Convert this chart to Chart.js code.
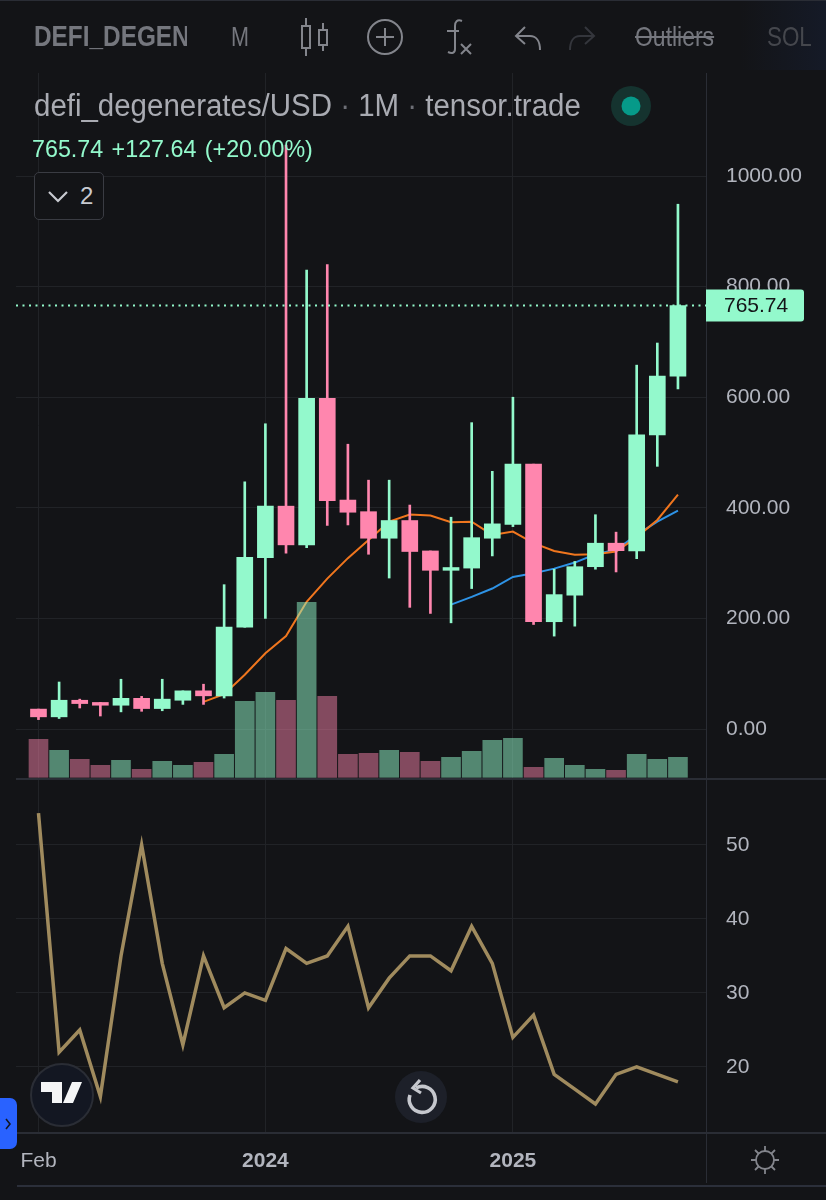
<!DOCTYPE html>
<html>
<head>
<meta charset="utf-8">
<script src="https://cdn.jsdelivr.net/npm/chart.js@4/dist/chart.umd.min.js"></script>
<style>
  html, body { margin: 0; padding: 0; background: #131417; }
  #page { position: relative; width: 826px; height: 1200px; overflow: hidden; background: #131417; font-family: "Liberation Sans", sans-serif; }
  canvas { position: absolute; left: 0; display: block; }
  .txt { position: absolute; white-space: pre; transform-origin: left center; line-height: 1; }
  .rule { position: absolute; background: #2a2d35; }
  svg { position: absolute; overflow: visible; }
  .dim { color: #6d6f76; }
</style>
</head>
<body>
<div id="page">
  <canvas id="priceCanvas" width="826" height="779" style="top:0"></canvas>
  <canvas id="rsiCanvas" width="826" height="421" style="top:779px"></canvas>

  <div style="position:absolute;left:740px;top:0;width:86px;height:70px;background:linear-gradient(90deg,#131417,#151a27)"></div>
  <div class="rule" style="left:0;top:0;width:826px;height:1px"></div>
  <div class="rule" style="left:16px;top:778px;width:810px;height:2px"></div>
  <div class="rule" style="left:16px;top:1132px;width:810px;height:2px"></div>
  <div class="rule" style="left:17px;top:1185px;width:809px;height:2px;background:#2b2f3a"></div>
  <div class="rule" style="left:706px;top:1133px;width:1px;height:50px"></div>

  <!-- toolbar -->
  <div class="txt" style="left:34px;top:22px;font-size:29px;font-weight:bold;color:#75777e;transform:scaleX(.84);width:182px;overflow:hidden">DEFI_DEGEN</div>
  <div class="txt" style="left:231px;top:24px;font-size:27px;color:#75777e;transform:scaleX(.80)">M</div>
  <svg style="left:298px;top:18px" width="34" height="38" fill="none" stroke="#83858c" stroke-width="2">
    <rect x="4" y="8" width="8" height="22"/><path d="M8 0v8M8 30v8"/>
    <rect x="21" y="12" width="8" height="15"/><path d="M25 5v7M25 27v6"/>
  </svg>
  <svg style="left:367px;top:19px" width="36" height="36" fill="none" stroke="#83858c" stroke-width="2">
    <circle cx="18" cy="18" r="17"/><path d="M18 9v18M9 18h18"/>
  </svg>
  <svg style="left:446px;top:19px" width="28" height="36" fill="none" stroke="#83858c" stroke-width="2">
    <path d="M16 2c-5-2-7 1-7 5v23c0 4-3 5-7 3"/><path d="M1 12h12"/><path d="M15 25l10 10M25 25L15 35"/>
  </svg>
  <svg style="left:515px;top:26px" width="28" height="24" fill="none" stroke="#83858c" stroke-width="2">
    <path d="M10 1L1 10l9 8"/><path d="M1 10h14c6 0 10 5 10 14"/>
  </svg>
  <svg style="left:568px;top:26px" width="28" height="24" fill="none" stroke="#34363c" stroke-width="2">
    <path d="M17 1l9 9-9 8"/><path d="M26 10H12C6 10 2 15 2 24"/>
  </svg>
  <div class="txt" style="left:635px;top:23px;font-size:28px;color:#75777e;text-decoration:line-through;transform:scaleX(.82)">Outliers</div>
  <div class="txt" style="left:767px;top:23px;font-size:28px;color:#45474d;transform:scaleX(.80)">SOL</div>

  <!-- series legend -->
  <div class="txt" style="left:34px;top:90px;font-size:31px;color:#a9abb2;transform:scaleX(.95)">defi_degenerates/USD <span class="dim">·</span> 1M <span class="dim">·</span> tensor.trade</div>
  <svg style="left:611px;top:86px" width="40" height="40">
    <circle cx="20" cy="20" r="20" fill="#15332f"/><circle cx="20" cy="20" r="9.5" fill="#069a89"/>
  </svg>
  <div class="txt" style="left:32px;top:137px;font-size:24px;color:#93f9cc;word-spacing:2px;transform:scaleX(.97)">765.74 +127.64 (+20.00%)</div>
  <div style="position:absolute;left:34px;top:172px;width:68px;height:46px;border:1.5px solid #3a3c43;border-radius:5px;background:#131417"></div>
  <svg style="left:47px;top:190px" width="22" height="14" fill="none" stroke="#c8cad0" stroke-width="2.2"><path d="M2 2l9 9 9-9"/></svg>
  <div class="txt" style="left:80px;top:184px;font-size:24px;color:#c8cad0">2</div>

  <!-- logo, reset, side tab, settings -->
  <svg style="left:30px;top:1063px" width="64" height="64">
    <circle cx="32" cy="32" r="31" fill="#131722" stroke="#2a2d35" stroke-width="2"/>
    <path d="M11 19h21v21h-10V29H11zM52 19L43 40H33l9-21z" fill="#f4f5f6"/>
  </svg>
  <svg style="left:395px;top:1071px" width="52" height="52" fill="none">
    <circle cx="26" cy="26" r="26" fill="#1d2029"/>
    <path d="M21 17a13 13 0 1 1-6 7" stroke="#c5c7cd" stroke-width="3.6"/><path d="M25 9l-7 8 8 5" stroke="#c5c7cd" stroke-width="3.2"/>
  </svg>
  <svg style="left:0;top:1098px" width="17" height="51">
    <rect x="-6" y="0" width="23" height="51" rx="7" fill="#2962ff"/>
    <path d="M6 21l4 5-4 5" fill="none" stroke="#131722" stroke-width="1.6"/>
  </svg>
  <svg style="left:750px;top:1145px" width="30" height="30" fill="none" stroke="#83858c" stroke-width="1.8">
    <circle cx="15" cy="15" r="9"/><path d="M15 1v5M15 24v5M1 15h5M24 15h5M5 5l3.5 3.5M21.5 21.5L25 25M5 25l3.5-3.5M21.5 8.5L25 5"/>
  </svg>
</div>

<script>
// monthly candles, Feb 2023 -> Sep 2025
const opens  = [36, 22, 52, 48, 43, 55.5, 37, 52, 69, 60, 184, 310, 403, 333, 598, 414, 393, 345, 377, 322, 287, 291, 345, 370, 479, 194, 242, 293.5, 336, 322, 532, 638];
const closes = [22, 52, 46, 43, 55.5, 37, 54, 69, 60, 184.5, 310.5, 403, 333, 598, 413, 392, 345, 377, 321, 287, 292, 346, 371, 479, 194, 243, 293.5, 336, 322.5, 532, 638, 765.74];
const highs  = [36, 85, 54, 48, 90, 59, 90, 69, 81, 261, 447, 552, 1056, 830, 840, 515, 450, 450, 405, 322, 383, 554, 466, 600, 479, 289, 303, 387.5, 356, 658, 698, 949];
const lows   = [17, 19, 38, 23.5, 31, 32, 33, 44.5, 44.5, 56, 184, 200, 318, 328, 368, 369, 316, 273, 220, 209, 192, 254, 313, 366, 189, 168, 186, 289, 284, 308, 475, 615];
const volumes = [38, 27, 18, 12, 17, 8, 16, 12, 15, 23, 76, 85, 77, 175, 81, 23, 24, 27, 25, 16, 20, 26, 37, 39, 10, 19, 12, 8, 7, 23, 18, 20];
const maOrange = [null, null, null, null, null, null, null, null, 49, 63, 98, 137, 168, 230, 272, 309, 342, 375, 388, 386, 374, 375, 351, 357, 336, 322, 315, 316, 321, 347, 378, 424];
const maBlue   = [null, null, null, null, null, null, null, null, null, null, null, null, null, null, null, null, null, null, null, null, 225, 239, 254, 275, 281.5, 290, 301, 316, 324, 351, 375, 395];
const rsiValues = [54.3, 22, 25, 16, 35, 50, 34, 23, 35, 28, 30, 29, 36, 34, 35, 39, 28, 32, 35, 35, 33, 39, 34, 24, 27, 19, 17, 15, 19, 20, 19, 18];

const priceTicks = [1000, 800, 600, 400, 200, 0];
const rsiTicks = [50, 40, 30, 20];
const timeTicks = [0, 11, 23];
const timeLabels = ['Feb', '2024', '2025'];
const lastPrice = 765.74;

const UP = '#93f9cc', DOWN = '#ff86ae';
const UP_VOL = 'rgba(147,249,204,0.5)', DOWN_VOL = 'rgba(255,134,174,0.48)';
const GRID = '#212327', TICK = '#b2b5be';
const FONT = '"Liberation Sans", sans-serif';
const TICK_SIZE = 21;

const barColor = i => closes[i] >= opens[i] ? UP : DOWN;
const volColor = i => closes[i] >= opens[i] ? UP_VOL : DOWN_VOL;
const xy = vals => vals.map((v, i) => ({ x: i, y: v }));

const xRange = { min: -1.09, max: 32.36 };

// pin the plot area: fixed axis size, no extra room for labels overhanging the edges
const fitAxis = size => scale => {
    if (scale.isHorizontal()) scale.height = size; else scale.width = size;
    scale.paddingTop = scale.paddingBottom = scale.paddingLeft = scale.paddingRight = 0;
};

const priceTagPlugin = {
    id: 'priceTag',
    afterDraw (chart) {
        const { ctx, chartArea } = chart;
        const y = chart.scales.y.getPixelForValue(lastPrice);
        ctx.save();
        ctx.fillStyle = UP;
        ctx.beginPath();
        ctx.roundRect(chartArea.right, y - 16, 98, 32, [0, 3, 3, 0]);
        ctx.fill();
        ctx.fillStyle = '#131417';
        ctx.font = TICK_SIZE + 'px ' + FONT;
        ctx.textBaseline = 'middle';
        ctx.fillText(lastPrice.toFixed(2), chartArea.right + 18, y + 1);
        ctx.restore();
    }
};

new Chart(document.getElementById('priceCanvas'), {
    type: 'bar',
    data: {
        datasets: [
            { type: 'line', data: [{ x: xRange.min, y: lastPrice }, { x: xRange.max, y: lastPrice }], yAxisID: 'y', order: 0,
              borderColor: UP, borderWidth: 2, borderDash: [2, 4.5], pointRadius: 0 },
            { data: opens.map((o, i) => ({ x: i, y: [o, closes[i]] })), yAxisID: 'y', order: 1, grouped: false,
              backgroundColor: opens.map((o, i) => barColor(i)), barThickness: 16 },
            { data: lows.map((l, i) => ({ x: i, y: [l, highs[i]] })), yAxisID: 'y', order: 2, grouped: false,
              backgroundColor: lows.map((l, i) => barColor(i)), barThickness: 2 },
            { data: xy(volumes), yAxisID: 'yVol', order: 3, grouped: false,
              backgroundColor: volumes.map((v, i) => volColor(i)), barThickness: 19 },
            { type: 'line', data: xy(maOrange), yAxisID: 'y', order: 4, borderColor: '#f0761e', borderWidth: 2, pointRadius: 0, spanGaps: false },
            { type: 'line', data: xy(maBlue), yAxisID: 'y', order: 4, borderColor: '#2e93e6', borderWidth: 2, pointRadius: 0, spanGaps: false }
        ]
    },
    options: {
        responsive: false,
        animation: false,
        layout: { autoPadding: false, padding: { left: 16, right: 0, top: 73, bottom: 1 } },
        plugins: { legend: { display: false }, tooltip: { enabled: false } },
        scales: {
            x: {
                type: 'linear', min: xRange.min, max: xRange.max, offset: false,
                afterBuildTicks: s => { s.ticks = timeTicks.map(v => ({ value: v })); },
                afterFit: fitAxis(0),
                ticks: { display: false },
                grid: { color: GRID, drawTicks: false, offset: false },
                border: { display: false }
            },
            y: {
                position: 'right', min: -88.6, max: 1186.3,
                afterBuildTicks: s => { s.ticks = priceTicks.map(v => ({ value: v })); },
                afterFit: fitAxis(120),
                ticks: { color: TICK, padding: 20, font: { size: TICK_SIZE, family: FONT }, callback: v => v.toFixed(2) },
                grid: { color: GRID, drawTicks: false },
                border: { color: '#2a2d35' }
            },
            yVol: { display: false, min: -0.7, max: 704.3 }
        }
    },
    plugins: [priceTagPlugin]
});

new Chart(document.getElementById('rsiCanvas'), {
    type: 'line',
    data: {
        datasets: [
            { data: xy(rsiValues), borderColor: '#a08b5e', borderWidth: 3.5, pointRadius: 0, borderJoinStyle: 'miter' }
        ]
    },
    options: {
        responsive: false,
        animation: false,
        layout: { autoPadding: false, padding: { left: 16, right: 0, top: 0, bottom: 0 } },
        plugins: { legend: { display: false }, tooltip: { enabled: false } },
        scales: {
            x: {
                type: 'linear', min: xRange.min, max: xRange.max,
                afterBuildTicks: s => { s.ticks = timeTicks.map(v => ({ value: v })); },
                afterFit: fitAxis(67),
                ticks: {
                    color: TICK, padding: 16, maxRotation: 0, autoSkip: false,
                    font: c => ({ size: TICK_SIZE, family: FONT, weight: c.index > 0 ? 'bold' : 'normal' }),
                    callback: (v, i) => timeLabels[i]
                },
                grid: { color: GRID, drawTicks: false },
                border: { display: false }
            },
            y: {
                position: 'right', min: 11.08, max: 58.9,
                afterBuildTicks: s => { s.ticks = rsiTicks.map(v => ({ value: v })); },
                afterFit: fitAxis(120),
                ticks: { color: TICK, padding: 20, font: { size: TICK_SIZE, family: FONT } },
                grid: { color: GRID, drawTicks: false },
                border: { color: '#2a2d35' }
            }
        }
    }
});
</script>
</body>
</html>
